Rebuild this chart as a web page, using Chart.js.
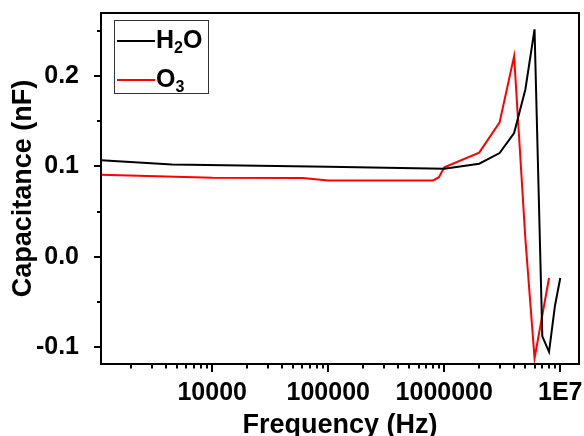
<!DOCTYPE html>
<html>
<head>
<meta charset="utf-8">
<script src="https://cdn.jsdelivr.net/npm/chart.js@4.4.1/dist/chart.umd.min.js"></script>
<style>
  html, body { margin: 0; padding: 0; background: #fff; }
  #wrap { width: 584px; height: 436px; }
</style>
</head>
<body>
<div id="wrap"><canvas id="grafico" width="584" height="436"></canvas></div>
<script>
const seriesNames = ['H₂O', 'O₃'];
const seriesColors = ['#000000', '#ff0000'];

// H2O
const h2oFreq = [1100, 4500, 100000, 1000000, 2000000, 3000000, 4000000, 5000000, 6000000, 7000000, 8000000, 9000000, 10000000];
const h2oCap  = [0.1067, 0.1020, 0.0997, 0.0975, 0.1030, 0.1148, 0.1370, 0.1852, 0.2519, -0.0884, -0.1055, -0.0544, -0.0237];

// O3
const o3Freq = [1100, 10000, 60000, 100000, 800000, 900000, 1000000, 2000000, 3000000, 4000000, 5000000, 6000000, 7000000, 8000000];
const o3Cap  = [0.0908, 0.0873, 0.0870, 0.0845, 0.0845, 0.0880, 0.0990, 0.1152, 0.1489, 0.2222, 0.0200, -0.1126, -0.0650, -0.0237];

const xTicks = [10000, 100000, 1000000, 10000000];
const xTickLabels = ['10000', '100000', '1000000', '1E7'];
const yTicks = [-0.1, 0.0, 0.1, 0.2];
const yMinorTicks = [-0.05, 0.05, 0.15, 0.25];

const xMin = 1100, xMax = 14500000;
const fam = '"Liberation Sans", Arial, sans-serif';

// minor ticks of the log axis: 2..9 in every decade
function minorLogTicks(min, max) {
  let out = [];
  for (let d = 1000; d < max; d *= 10) {
    for (let k = 2; k <= 9; k++) {
      const v = d * k;
      if (v >= min && v <= max) out.push(v);
    }
  }
  return out;
}

function noPad(s) {
  s.paddingLeft = 0; s.paddingRight = 0; s.paddingTop = 0; s.paddingBottom = 0;
}

const subMap = { '₀':'0','₁':'1','₂':'2','₃':'3','₄':'4','₅':'5','₆':'6','₇':'7','₈':'8','₉':'9' };

const frameTicksLegend = {
  id: 'frameTicksLegend',
  afterDraw(chart) {
    const { ctx, chartArea: a, scales: { x, y } } = chart;
    ctx.save();
    ctx.strokeStyle = '#000';
    ctx.lineWidth = 2;
    ctx.strokeRect(a.left, a.top, a.right - a.left, a.bottom - a.top);

    ctx.beginPath();
    x.ticks.forEach(t => {
      const px = Math.round(x.getPixelForValue(t.value));
      const len = xTicks.includes(t.value) ? 8 : 4.5;
      ctx.moveTo(px, a.bottom);
      ctx.lineTo(px, a.bottom + len);
    });
    y.ticks.forEach(t => {
      const py = Math.round(y.getPixelForValue(t.value));
      const len = yTicks.includes(t.value) ? 7 : 4;
      ctx.moveTo(a.left, py);
      ctx.lineTo(a.left - len, py);
    });
    ctx.stroke();

    // legend box
    const bx = a.left + 13, by = a.top + 7, bw = 94, bh = 73;
    ctx.fillStyle = '#fff';
    ctx.fillRect(bx, by, bw, bh);
    ctx.lineWidth = 1;
    ctx.strokeStyle = '#333';
    ctx.strokeRect(bx + 0.5, by + 0.5, bw, bh);

    chart.data.datasets.forEach((ds, i) => {
      const ly = by + 21 + i * 39;
      ctx.strokeStyle = ds.borderColor;
      ctx.lineWidth = 2;
      ctx.beginPath();
      ctx.moveTo(bx + 3, ly);
      ctx.lineTo(bx + 41, ly);
      ctx.stroke();

      let tx = bx + 42;
      const base = ly + 7;
      ctx.fillStyle = '#000';
      ctx.textBaseline = 'alphabetic';
      ctx.textAlign = 'left';
      for (const ch of ds.label) {
        if (subMap[ch]) {
          ctx.font = 'bold 16px ' + fam;
          ctx.fillText(subMap[ch], tx, base + 5);
          tx += ctx.measureText(subMap[ch]).width;
        } else {
          ctx.font = 'bold 25px ' + fam;
          ctx.fillText(ch, tx, base);
          tx += ctx.measureText(ch).width;
        }
      }
    });
    ctx.restore();
  }
};

const ctx = document.getElementById('grafico').getContext('2d');

new Chart(ctx, {
  type: 'line',
  data: {
    datasets: [
      {
        label: seriesNames[0],
        data: h2oFreq.map((f, i) => ({ x: f, y: h2oCap[i] })),
        borderColor: seriesColors[0],
        borderWidth: 2,
        pointRadius: 0,
        tension: 0,
        fill: false
      },
      {
        label: seriesNames[1],
        data: o3Freq.map((f, i) => ({ x: f, y: o3Cap[i] })),
        borderColor: seriesColors[1],
        borderWidth: 2,
        pointRadius: 0,
        tension: 0,
        fill: false
      }
    ]
  },
  options: {
    responsive: false,
    animation: false,
    devicePixelRatio: 1,
    layout: { padding: { top: 13, right: 5, left: 0, bottom: 0 } },
    plugins: { legend: { display: false }, tooltip: { enabled: false } },
    scales: {
      x: {
        type: 'logarithmic',
        min: xMin,
        max: xMax,
        grid: { display: false },
        border: { display: false },
        afterBuildTicks(s) {
          s.ticks = xTicks.concat(minorLogTicks(xMin, xMax)).sort((p, q) => p - q).map(v => ({ value: v }));
        },
        afterFit(s) { s.height = 72; noPad(s); },
        ticks: {
          autoSkip: false,
          maxRotation: 0,
          minRotation: 0,
          padding: 6,
          color: '#000',
          font: { family: fam, size: 25, weight: 'bold' },
          callback(v) {
            const i = xTicks.indexOf(v);
            return i >= 0 ? xTickLabels[i] : '';
          }
        },
        title: {
          display: true,
          text: 'Frequency (Hz)',
          color: '#000',
          padding: 0,
          font: { family: fam, size: 27, weight: 'bold', lineHeight: 0.8 }
        }
      },
      y: {
        type: 'linear',
        min: -0.119,
        max: 0.27,
        grid: { display: false },
        border: { display: false },
        afterBuildTicks(s) {
          s.ticks = yTicks.concat(yMinorTicks).sort((p, q) => p - q).map(v => ({ value: v }));
        },
        afterFit(s) { s.width = 101; noPad(s); },
        ticks: {
          autoSkip: false,
          padding: 14,
          color: '#000',
          font: { family: fam, size: 25, weight: 'bold' },
          callback(v) {
            return yTicks.includes(v) ? v.toFixed(1) : '';
          }
        },
        title: {
          display: true,
          text: 'Capacitance (nF)',
          color: '#000',
          padding: { top: 7, bottom: 0 },
          font: { family: fam, size: 27, weight: 'bold' }
        }
      }
    }
  },
  plugins: [frameTicksLegend]
});
</script>
</body>
</html>
